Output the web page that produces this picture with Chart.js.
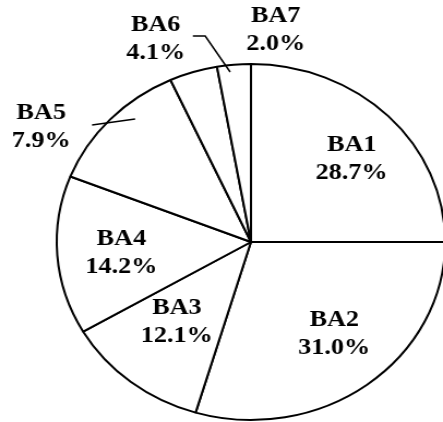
<!DOCTYPE html>
<html>
<head>
<meta charset="utf-8">
<script src="https://cdn.jsdelivr.net/npm/chart.js@4"></script>
<style>
  html, body { margin: 0; padding: 0; background: #fff; overflow: hidden; width: 443px; height: 422px; }
  /* the reference pie is slightly stretched sideways, text included */
  #wrap { width: 410px; height: 422px; transform: scaleX(1.0911); transform-origin: 0 0; }
  .probe { font-family: "Liberation Serif"; font-weight: bold; position: absolute; left: -999px; }
</style>
</head>
<body>
<span class="probe">BA 28.7%</span>
<div id="wrap"><canvas id="pie"></canvas></div>
<script>
const categories = ['BA1', 'BA2', 'BA3', 'BA4', 'BA5', 'BA6', 'BA7'];
// shares as printed on the chart
const shareLabels = ['28.7%', '31.0%', '12.1%', '14.2%', '7.9%', '4.1%', '2.0%'];
// slice sizes as they are drawn in the picture (%), they don't quite follow the printed shares
const sliceSizes = [25.0, 29.6, 12.0, 14.4, 12.2, 4.0, 2.8];

// label placement: angle (deg, clockwise from 12 o'clock) and distance in radii
const labelPlace = [
  { a: 47.8, r: 0.70 },
  { a: 140.2, r: 0.67 },
  { a: 220.3, r: 0.59 },
  { a: 264.7, r: 0.67 },
  { a: 301.0, r: 1.26 },
  { a: 336.7, r: 1.24 },
  { a: 6.1, r: 1.20 }
];
// leader lines, same polar form
const leaders = [
  [{ a: 308.8, r: 1.05 }, { a: 319.2, r: 0.913 }],
  [{ a: 345.5, r: 1.195 }, { a: 348.5, r: 1.181 }, { a: 353.6, r: 0.961 }]
];

const labelFont = 'bold 24px "Liberation Serif", "Times New Roman", Times, serif';

function polar(arc, p) {
  const t = p.a * Math.PI / 180;
  return { x: arc.x + p.r * arc.outerRadius * Math.sin(t), y: arc.y - p.r * arc.outerRadius * Math.cos(t) };
}

const pieLabels = {
  id: 'pieLabels',
  afterDatasetsDraw(chart) {
    const ctx = chart.ctx;
    const arc = chart.getDatasetMeta(0).data[0];
    ctx.save();
    ctx.strokeStyle = '#000';
    ctx.lineWidth = 1.5;
    leaders.forEach(pts => {
      ctx.beginPath();
      pts.forEach((p, i) => {
        const q = polar(arc, p);
        if (i === 0) ctx.moveTo(q.x, q.y); else ctx.lineTo(q.x, q.y);
      });
      ctx.stroke();
    });
    ctx.fillStyle = '#000';
    ctx.font = labelFont;
    ctx.textAlign = 'center';
    ctx.textBaseline = 'middle';
    categories.forEach((name, i) => {
      const q = polar(arc, labelPlace[i]);
      ctx.fillText(name, q.x, q.y - 14);
      ctx.fillText(shareLabels[i], q.x, q.y + 14);
    });
    ctx.restore();
  }
};

function draw() {
  new Chart(document.getElementById('pie'), {
    type: 'pie',
    data: {
      labels: categories,
      datasets: [{
        data: sliceSizes,
        backgroundColor: '#ffffff',
        borderColor: '#000000',
        borderWidth: 2,
        hoverOffset: 0
      }]
    },
    options: {
      responsive: true,
      maintainAspectRatio: false,
      animation: false,
      layout: { padding: { top: 63, bottom: 1, left: 50, right: 0 } },
      plugins: {
        legend: { display: false },
        tooltip: { enabled: false }
      }
    },
    plugins: [pieLabels]
  });
}

// make sure the serif face is ready before the canvas uses it
if (document.fonts && document.fonts.load) {
  document.fonts.load(labelFont).then(draw, draw);
} else {
  draw();
}
</script>
</body>
</html>
